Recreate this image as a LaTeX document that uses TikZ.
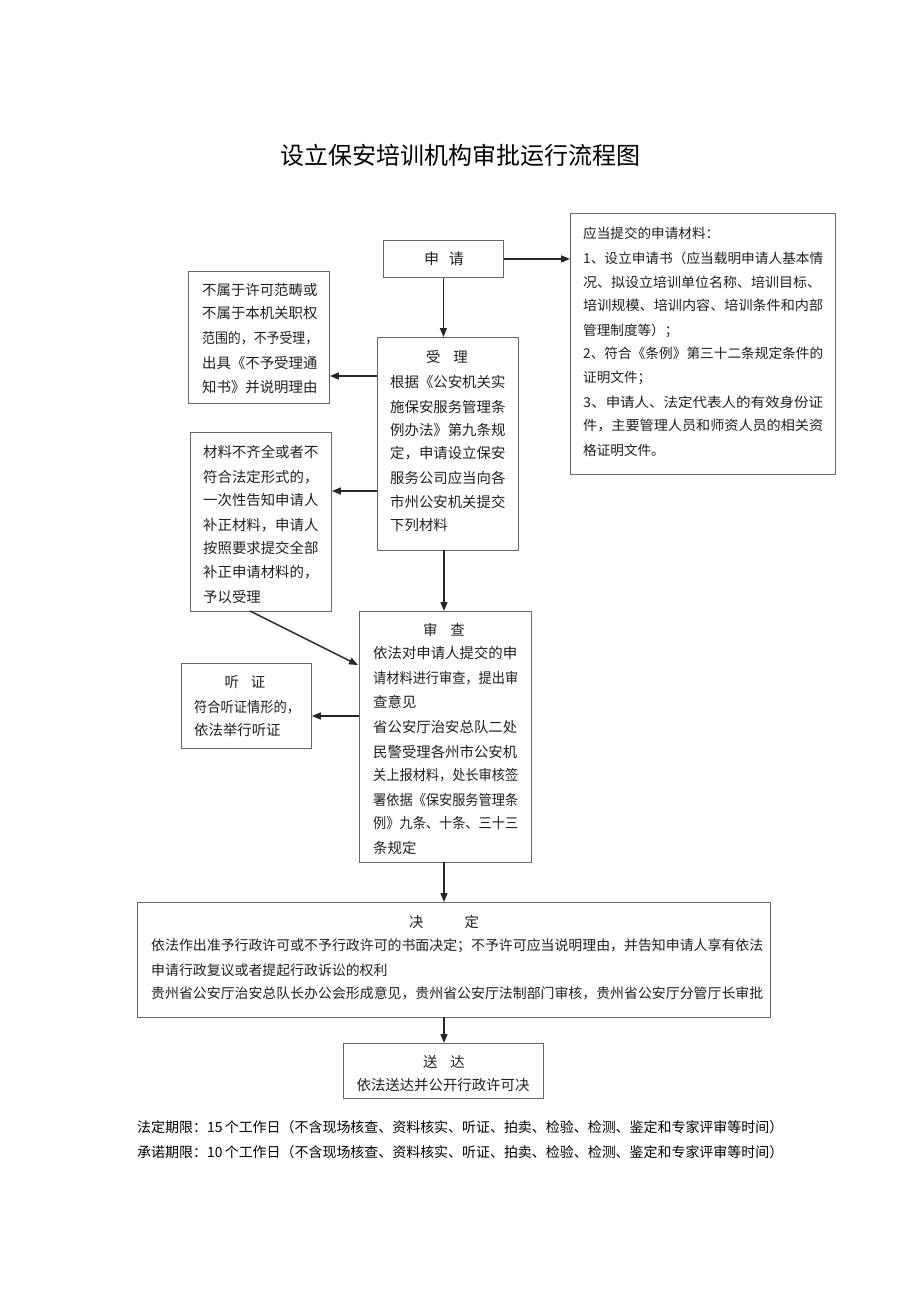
\documentclass[tikz,border=0pt]{standalone}
\usepackage{fontspec}
\usepackage{graphicx}
\setmainfont{Noto Sans CJK SC}
\usetikzlibrary{arrows.meta}
\newcommand\fitw[2]{\resizebox{#1pt}{\height}{#2}}
\begin{document}
\begin{tikzpicture}[x=1pt,y=-1pt,
  box/.style={draw=black!60, line width=0.9pt, inner sep=0, anchor=north west},
  txt/.style={inner sep=0, anchor=base west, font=\fontsize{14.4}{24}\selectfont, text=black!88},
  ttl/.style={inner sep=0, anchor=base, font=\fontsize{14.4}{24}\selectfont, text=black!88},
  mtxt/.style={txt, font=\fontsize{13.6}{24}\selectfont},
  jtxt/.style={txt, font=\fontsize{13.9}{24}\selectfont},
  arr/.style={-{Triangle[length=9pt,width=7pt]}, line width=1.4pt, black!85},
]
\useasboundingbox (0,0) rectangle (920,1301);
\newcommand\tline[5][txt]{\node[#1] (#2) at (#3,#4+5) {#5};}

% title
\node[inner sep=0, anchor=base, font=\fontsize{24}{24}\selectfont] (title) at (460,164) {设立保安培训机构审批运行流程图};

% boxes
\node[box, minimum width=120pt, minimum height=37pt] (sq) at (383,240) {};
\node[box, minimum width=265pt, minimum height=261pt] (mat) at (570,213) {};
\node[box, minimum width=141pt, minimum height=132pt] (b1) at (188,271) {};
\node[box, minimum width=141pt, minimum height=213pt] (sl) at (377,337) {};
\node[box, minimum width=141pt, minimum height=179pt] (b2) at (190,432) {};
\node[box, minimum width=172pt, minimum height=251pt] (sc) at (359,611) {};
\node[box, minimum width=130pt, minimum height=85pt] (tz) at (181,663) {};
\node[box, minimum width=633pt, minimum height=115pt] (jd) at (137,902) {};
\node[box, minimum width=200pt, minimum height=55pt] (sd) at (343,1043) {};

% 申请
\node[ttl, font=\fontsize{15}{24}\selectfont] (sqt) at (444,264.5) {申\hspace{10pt}请};

% materials
\tline[mtxt]{m1}{583}{233}{应当提交的申请材料：}
\tline[mtxt]{m2}{583}{258}{\fitw{240}{1、设立申请书（应当载明申请人基本情}}
\tline[mtxt]{m3}{583}{282}{\fitw{238}{况、拟设立培训单位名称、培训目标、}}
\tline[mtxt]{m4}{583}{305}{\fitw{240}{培训规模、培训内容、培训条件和内部}}
\tline[mtxt]{m5}{583}{330}{管理制度等）；}
\tline[mtxt]{m6}{583}{353}{\fitw{240}{2、符合《条例》第三十二条规定条件的}}
\tline[mtxt]{m7}{583}{377}{证明文件；}
\tline[mtxt]{m8}{583}{402}{\fitw{240}{3、申请人、法定代表人的有效身份证}}
\tline[mtxt]{m9}{583}{425}{\fitw{240}{件，主要管理人员和师资人员的相关资}}
\tline[mtxt]{m10}{583}{450}{格证明文件。}

% box 1
\tline{a1}{202}{290}{不属于许可范畴或}
\tline{a2}{202}{313}{不属于本机关职权}
\tline{a3}{202}{338}{\fitw{116}{范围的，不予受理，}}
\tline{a4}{202}{363}{出具《不予受理通}
\tline{a5}{202}{387}{知书》并说明理由}

% 受理
\node[ttl] (slt) at (447,362) {受\hspace{13pt}理};
\tline{s1}{390}{382}{根据《公安机关实}
\tline{s2}{390}{407}{施保安服务管理条}
\tline{s3}{390}{430}{例办法》第九条规}
\tline{s4}{390}{453}{定，申请设立保安}
\tline{s5}{390}{478}{服务公司应当向各}
\tline{s6}{390}{502}{市州公安机关提交}
\tline{s7}{390}{525}{下列材料}

% box 2
\tline{c1}{203}{452}{材料不齐全或者不}
\tline{c2}{203}{477}{符合法定形式的，}
\tline{c3}{203}{500}{一次性告知申请人}
\tline{c4}{203}{525}{补正材料，申请人}
\tline{c5}{203}{548}{按照要求提交全部}
\tline{c6}{203}{572}{补正申请材料的，}
\tline{c7}{203}{597}{予以受理}

% 审查
\node[ttl] (sct) at (444,635) {审\hspace{13pt}查};
\tline{e1}{373}{653}{依法对申请人提交的申}
\tline{e2}{373}{678}{\fitw{145}{请材料进行审查，提出审}}
\tline{e3}{373}{702}{查意见}
\tline{e4}{373}{727}{省公安厅治安总队二处}
\tline{e5}{373}{752}{民警受理各州市公安机}
\tline{e6}{373}{775}{\fitw{145}{关上报材料，处长审核签}}
\tline{e7}{373}{800}{\fitw{145}{署依据《保安服务管理条}}
\tline{e8}{373}{823}{\fitw{145}{例》九条、十条、三十三}}
\tline{e9}{373}{848}{条规定}

% 听证
\node[ttl] (tzt) at (245,687) {听\hspace{12pt}证};
\tline{h1}{194}{707}{\fitw{106}{符合听证情形的，}}
\tline{h2}{194}{730}{依法举行听证}

% 决定
\node[ttl] (jdt) at (444,927) {决\hspace{41pt}定};
\tline[jtxt]{j1}{151}{945}{\fitw{612}{依法作出准予行政许可或不予行政许可的书面决定；不予许可应当说明理由，并告知申请人享有依法}}
\tline[jtxt]{j2}{151}{970}{申请行政复议或者提起行政诉讼的权利}
\tline[jtxt]{j3}{151}{993}{\fitw{612}{贵州省公安厅治安总队长办公会形成意见，贵州省公安厅法制部门审核，贵州省公安厅分管厅长审批}}

% 送达
\node[ttl] (sdt) at (444,1067) {送\hspace{13pt}达};
\node[ttl] (sdl) at (443,1090) {依法送达并公开行政许可决};

% footnotes
\node[txt, font=\fontsize{14}{24}\selectfont, text=black] (f1) at (137,1132) {\fitw{646}{法定期限：15\,个工作日（不含现场核查、资料核实、听证、拍卖、检验、检测、鉴定和专家评审等时间）}};
\node[txt, font=\fontsize{14}{24}\selectfont, text=black] (f2) at (137,1157) {\fitw{646}{承诺期限：10\,个工作日（不含现场核查、资料核实、听证、拍卖、检验、检测、鉴定和专家评审等时间）}};

% connector coordinates
\coordinate (p1) at (377,376);
\coordinate (p2) at (377,491);
\coordinate (p3) at (444,550);
\coordinate (p4) at (250,611);
\coordinate (p5) at (358,665);
\coordinate (p6) at (359,716);
\coordinate (p7) at (444,862);
\coordinate (p8) at (444,1017);

% connectors
\draw[arr] (sq.east) -- (sq.east -| mat.west);
\draw[arr] (sq.south) -- (sq.south |- sl.north);
\draw[arr] (p1) -- (p1 -| b1.east);
\draw[arr] (p2) -- (p2 -| b2.east);
\draw[arr] (p3) -- (p3 |- sc.north);
\draw[arr] (p4) -- (p5);
\draw[arr] (p6) -- (p6 -| tz.east);
\draw[arr] (p7) -- (p7 |- jd.north);
\draw[arr] (p8) -- (p8 |- sd.north);
\end{tikzpicture}
\end{document}
